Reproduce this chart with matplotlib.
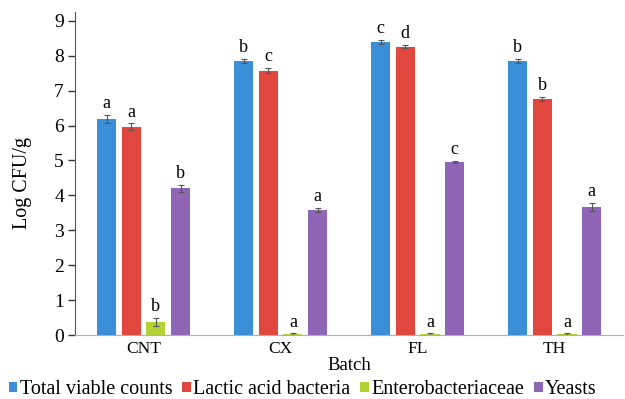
import numpy as np
import matplotlib
matplotlib.use("Agg")
import matplotlib.pyplot as plt

plt.rcParams['font.family'] = ['Liberation Serif', 'DejaVu Serif']

batches = ["CNT", "CX", "FL", "TH"]
series = ["Total viable counts", "Lactic acid bacteria", "Enterobacteriaceae", "Yeasts"]
colors = ["#3b8fd9", "#e2473d", "#b3d334", "#8f65b6"]

total_viable = [6.19, 7.85, 8.40, 7.85]
lactic_acid = [5.96, 7.57, 8.26, 6.76]
enterobact = [0.37, 0.03, 0.03, 0.03]
yeasts = [4.21, 3.58, 4.96, 3.67]

err_total = [0.12, 0.06, 0.06, 0.06]
err_lactic = [0.10, 0.08, 0.05, 0.07]
err_entero = [0.12, 0.02, 0.02, 0.02]
err_yeasts = [0.10, 0.06, 0.02, 0.12]

letters_total = ["a", "b", "c", "b"]
letters_lactic = ["a", "c", "d", "b"]
letters_entero = ["b", "a", "a", "a"]
letters_yeasts = ["b", "a", "c", "a"]

values = [total_viable, lactic_acid, enterobact, yeasts]
errors = [err_total, err_lactic, err_entero, err_yeasts]
letters = [letters_total, letters_lactic, letters_entero, letters_yeasts]

fig = plt.figure(figsize=(6.25, 3.99), dpi=100)
ax = fig.add_axes([0.12, 0.16, 0.877, 0.81])

x = np.arange(len(batches))
width = 0.14
offsets = [-0.27, -0.09, 0.09, 0.27]

for i in range(4):
    ax.bar(x + offsets[i], values[i], width, color=colors[i], label=series[i],
           yerr=errors[i], ecolor="#555555", capsize=2.5,
           error_kw=dict(elinewidth=0.8, capthick=0.8))
    for j in range(len(batches)):
        ax.text(x[j] + offsets[i], values[i][j] + errors[i][j] + 0.08, letters[i][j],
                ha="center", va="bottom", fontsize=13)

ax.set_xlim(-0.5, 3.5)
ax.set_ylim(0, 9.25)
ax.set_yticks(range(0, 10))
ax.set_xticks(x)
ax.set_xticklabels(batches, fontsize=12.5)
ax.tick_params(axis="x", length=0, pad=4)
ax.tick_params(axis="y", labelsize=14, length=5, width=1, color="#333333", pad=3)
ax.set_ylabel("Log CFU/g", fontsize=14.5, labelpad=4)
ax.yaxis.set_label_coords(-0.078, 0.47)
ax.set_xlabel("Batch", fontsize=13.5, labelpad=0)

for s in ["top", "right"]:
    ax.spines[s].set_visible(False)
ax.spines["left"].set_linestyle((0, (1, 1)))
ax.spines["left"].set_color("#555555")
ax.spines["bottom"].set_color("#b0b0b0")

fig.legend(loc="lower left", bbox_to_anchor=(-0.002, -0.025), ncol=4, frameon=False,
           fontsize=14.5, handlelength=0.42, handleheight=0.42, handletextpad=0.12,
           columnspacing=0.5, borderaxespad=0.1)

fig.savefig("out.png", dpi=100)
